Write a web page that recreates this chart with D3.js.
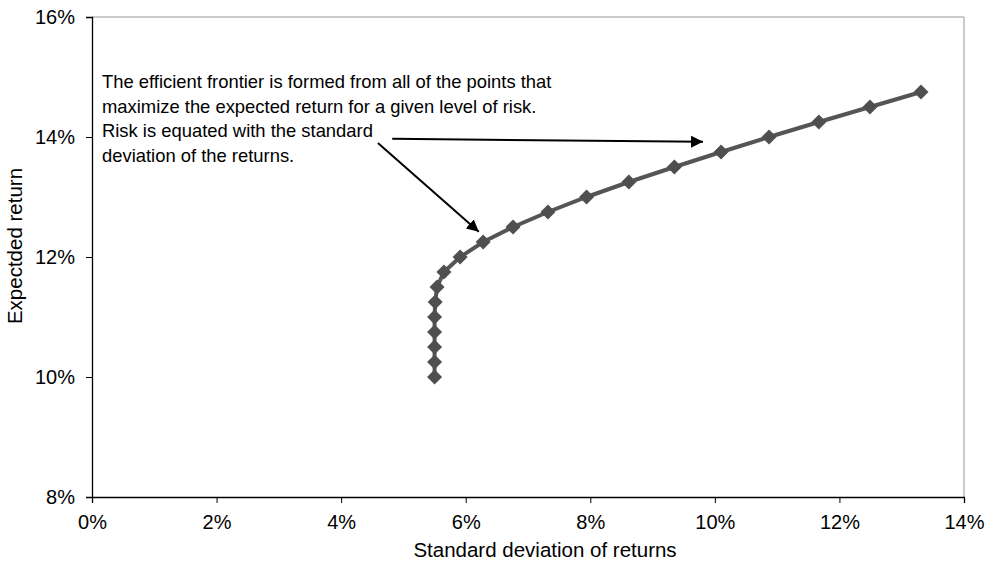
<!DOCTYPE html>
<html><head><meta charset="utf-8">
<script src="https://cdn.jsdelivr.net/npm/d3@7"></script>
<style>body{margin:0;background:#fff;} text{font-family:"Liberation Sans",Arial,sans-serif;}</style>
</head><body>
<svg id="c" width="998" height="561"></svg>
<script>
const stdDev = [5.50,5.50,5.50,5.50,5.50,5.51,5.54,5.65,5.91,6.28,6.76,7.32,7.94,8.62,9.35,10.10,10.87,11.67,12.49,13.31];
const expReturn = [10.00,10.25,10.50,10.75,11.00,11.25,11.50,11.75,12.00,12.25,12.50,12.75,13.00,13.25,13.50,13.75,14.00,14.25,14.50,14.75];
const xTicks = [0,2,4,6,8,10,12,14];
const yTicks = [8,10,12,14,16];
const noteLines = ["The efficient frontier is formed from all of the points that","maximize the expected return for a given level of risk.","Risk is equated with the standard","deviation of the returns."];
const arrows = [{x1:4.82,y1:13.97,x2:9.81,y2:13.92},{x1:4.59,y1:13.90,x2:6.21,y2:12.42}];

const W=998,H=561,m={l:92,t:17,r:34,b:64};
const svg=d3.select("#c");
const x=d3.scaleLinear().domain([0,14]).range([m.l,W-m.r]);
const y=d3.scaleLinear().domain([8,16]).range([H-m.b,m.t]);

// frame top/right
svg.append("line").attr("x1",x(0)).attr("x2",x(14)).attr("y1",y(16)).attr("y2",y(16)).attr("stroke","#999").attr("stroke-width",1);
svg.append("line").attr("x1",x(14)).attr("x2",x(14)).attr("y1",y(16)).attr("y2",y(8)).attr("stroke","#999").attr("stroke-width",1);

const xa=svg.append("g").attr("transform",`translate(0,${y(8)})`)
 .call(d3.axisBottom(x).tickValues(xTicks).tickFormat(d=>d+"%").tickSize(6).tickPadding(12));
const ya=svg.append("g").attr("transform",`translate(${x(0)},0)`)
 .call(d3.axisLeft(y).tickValues(yTicks).tickFormat(d=>d+"%").tickSize(6).tickPadding(11));
[xa,ya].forEach(g=>{g.select(".domain").attr("stroke","#000").attr("stroke-width",1.3);
 g.selectAll(".tick line").attr("stroke","#000");
 g.selectAll("text").attr("font-size",20).attr("fill","#000").attr("font-family","Liberation Sans, Arial, sans-serif");});

svg.append("text").attr("x",545).attr("y",557).attr("text-anchor","middle").attr("font-size",20.5).text("Standard deviation of returns");
svg.append("text").attr("transform",`translate(22,246) rotate(-90)`).attr("text-anchor","middle").attr("font-size",20.5).text("Expectded return");

const pts=stdDev.map((s,i)=>({s,r:expReturn[i]}));
svg.append("path").datum(pts).attr("fill","none").attr("stroke","#555").attr("stroke-width",4)
 .attr("d",d3.line().x(d=>x(d.s)).y(d=>y(d.r)));
svg.selectAll(".pt").data(pts).enter().append("path").attr("class","pt")
 .attr("transform",d=>`translate(${x(d.s)},${y(d.r)})`)
 .attr("d","M0,-7.5L7.5,0L0,7.5L-7.5,0Z").attr("fill","#4f4f4f");

// annotation
const t=svg.append("text").attr("font-size",18.4).attr("fill","#000");
noteLines.forEach((l,i)=>t.append("tspan").attr("x",x(0)+10).attr("y",88+i*24.5).text(l));

svg.append("defs").append("marker").attr("id","ah").attr("viewBox","0 0 10 10").attr("refX",10).attr("refY",5)
 .attr("markerWidth",6).attr("markerHeight",6).attr("orient","auto").attr("markerUnits","strokeWidth")
 .append("path").attr("d","M0,0L10,5L0,10Z").attr("fill","#000");
svg.selectAll(".ar").data(arrows).enter().append("line")
 .attr("x1",d=>x(d.x1)).attr("y1",d=>y(d.y1)).attr("x2",d=>x(d.x2)).attr("y2",d=>y(d.y2))
 .attr("stroke","#000").attr("stroke-width",2).attr("marker-end","url(#ah)");
</script>
</body></html>
